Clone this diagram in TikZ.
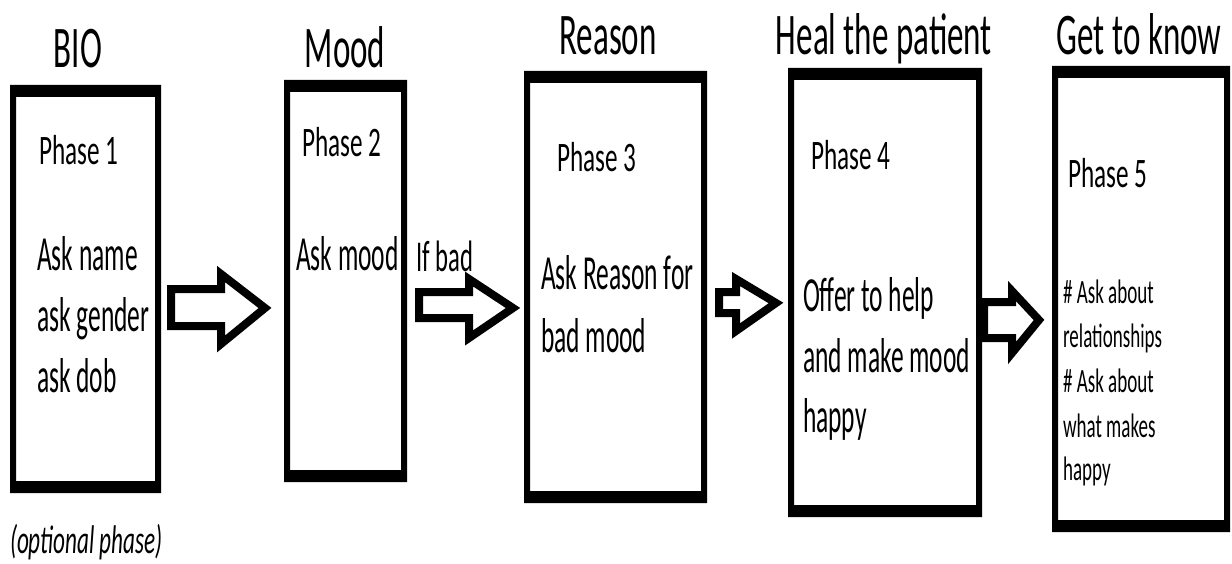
\documentclass[tikz,border=0pt]{standalone}
\usepackage{fontspec}
\setmainfont{Carlito}
\newfontfamily\cf{Carlito}[FakeStretch=0.56]
\newfontfamily\cfph{Carlito}[FakeStretch=0.6]
\newfontfamily\cfbd{Carlito}[FakeStretch=0.52]
\newfontfamily\cfit{Carlito}[FakeStretch=0.58]
\tikzset{
  frame/.style={draw=none, inner sep=0pt, outer sep=0pt},
  txt/.style={anchor=base west, inner sep=0pt, outer sep=0pt, text=black},
  hdr/.style={anchor=base, inner sep=0pt, outer sep=0pt, text=black, font=\cf\fontsize{59}{70}\selectfont},
  ph/.style={txt, font=\cfph\fontsize{42}{50}\selectfont},
  bd/.style={txt, font=\cfbd\fontsize{49}{58}\selectfont},
  sm/.style={txt, font=\cf\fontsize{34}{40}\selectfont},
  blk/.style={draw=black, fill=white, line width=8pt, line join=miter, miter limit=10},
}
\newcommand{\phaseframe}[1]{%
  \fill[black, even odd rule] (#1.south west) rectangle (#1.north east)
    ([xshift=6pt,yshift=12pt]#1.south west) rectangle ([xshift=-6pt,yshift=-12pt]#1.north east);}
% tail x, shaft top, shaft bottom, head base x, head top, head bottom, tip x, tip y
\newcommand{\blockarrow}[8]{%
  \path[blk] (#1,#2) -- (#4,#2) -- (#4,#5) -- (#7,#8) -- (#4,#6) -- (#4,#3) -- (#1,#3) -- cycle;}
\begin{document}
\begin{tikzpicture}[x=1pt,y=-1pt]
\useasboundingbox[fill=white] (0,0) rectangle (1232,564);
% boxes
\node[frame, minimum width=151pt, minimum height=408pt] (b1) at (85.5,289) {};
\node[frame, minimum width=123pt, minimum height=402pt] (b2) at (345.5,281) {};
\node[frame, minimum width=183pt, minimum height=432pt] (b3) at (615.5,287) {};
\node[frame, minimum width=194pt, minimum height=449pt] (b4) at (885,292.5) {};
\node[frame, minimum width=178pt, minimum height=466pt] (b5) at (1141,299) {};
\phaseframe{b1}\phaseframe{b2}\phaseframe{b3}\phaseframe{b4}\phaseframe{b5}
% headers
\node[hdr] (h1) at (78,68) {BIO};
\node[hdr] (h2) at (345,68) {Mood};
\node[hdr] (h3) at (608,55) {Reason};
\node[hdr] (h4) at (884,55) {Heal the patient};
\node[hdr] (h5) at (1139,55) {Get to know};
% box texts
\node[ph] (p1) at (39,165) {Phase 1};
\node[bd] (t11) at (37,270) {Ask name};
\node[bd] (t12) at (37,331) {ask gender};
\node[bd] (t13) at (37,392) {ask dob};
\node[ph] (p2) at (302,157) {Phase 2};
\node[bd] (t21) at (296,270) {Ask mood};
\node[ph] (p3) at (557,172) {Phase 3};
\node[bd] (t31) at (541,290) {Ask Reason for};
\node[bd] (t32) at (541,352) {bad mood};
\node[ph] (p4) at (811,170) {Phase 4};
\node[bd] (t41) at (803,312) {Offer to help};
\node[bd] (t42) at (803,372) {and make mood};
\node[bd] (t43) at (803,432) {happy};
\node[ph] (p5) at (1068,188) {Phase 5};
\node[sm] (t51) at (1063,303) {\# Ask about};
\node[sm] (t52) at (1063,347) {relationships};
\node[sm] (t53) at (1063,392) {\# Ask about};
\node[sm] (t54) at (1063,437) {what makes};
\node[sm] (t55) at (1063,480) {happy};
% labels
\node[txt, font=\cf\fontsize{44}{52}\selectfont] (ifbad) at (416,272) {If bad};
\node[txt, font=\cfit\itshape\fontsize{40}{46}\selectfont] (opt) at (10,553) {(optional phase)};
% block arrows
\blockarrow{171}{289}{326}{221}{274}{344}{265}{308}
\blockarrow{419}{292}{318}{469}{279}{338}{513}{308}
\blockarrow{719}{292}{313}{736}{279}{331}{776}{303}
\blockarrow{984}{302}{338}{1012}{291}{353}{1039}{320}
\end{tikzpicture}
\end{document}
